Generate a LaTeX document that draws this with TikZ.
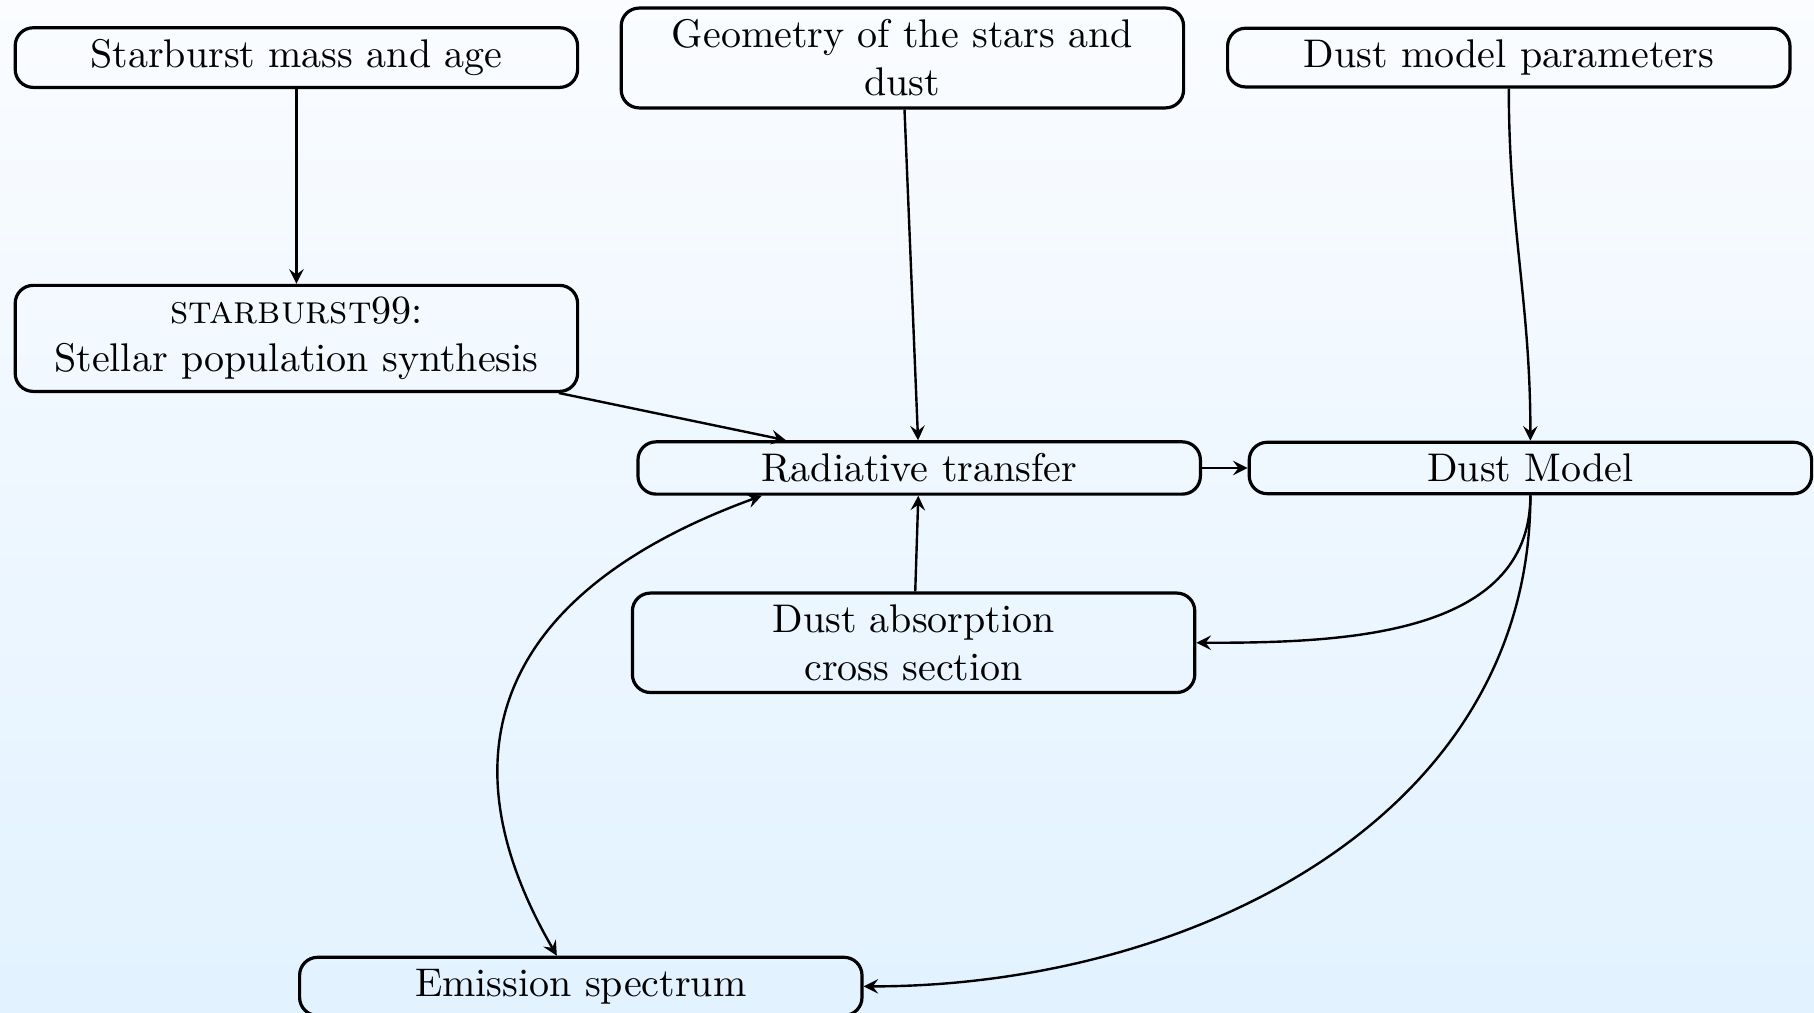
\documentclass[tikz,border=0pt]{standalone}
\definecolor{bgtop}{RGB}{250,252,255}
\definecolor{bgbot}{RGB}{226,242,255}
\begin{document}
\begin{tikzpicture}[->,>=stealth,semithick,main node/.style={rectangle,draw,thick,rounded corners=4.5pt,text width=133pt,align=center,minimum width=140.6pt,inner ysep=2.9pt}]
        \shade[-,top color=bgtop,bottom color=bgbot] (0,0) rectangle (453.5pt,-253.25pt);
        \useasboundingbox (0,0) rectangle (453.5pt,-253.25pt);
        \node[main node] (1) at (74.1pt,-14.4pt)   {Starburst mass and age};
        \node[main node] (2) at (225.6pt,-14.5pt)  {Geometry of the stars and\\dust};
        \node[main node] (3) at (377.2pt,-14.4pt)  {Dust model parameters};
        \node[main node] (4) at (74.1pt,-84.6pt)   {\textsc{starburst}99:\\Stellar population synthesis};
        \node[main node] (5) at (229.8pt,-117pt)   {Radiative transfer};
        \node[main node] (6) at (382.6pt,-117pt)   {Dust Model};
        \node[main node] (7) at (228.4pt,-160.7pt) {Dust absorption\\cross section};
        \node[main node] (8) at (145.2pt,-246.6pt) {Emission spectrum};
        \draw (1) -- (4);
        \draw (4) -- (5);
        \draw (2) -- (5);
        \draw (3) to[out=-90,in=90] (6);
        \draw (5) -- (6);
        \draw (7) -- (5);
        \draw (6) to[out=-90,in=0] (7);
        \draw (6) to[out=-90,in=0] (8);
        \draw[<->] (5.190) to[out=200,in=120,looseness=1.3] (8.128);
      \end{tikzpicture}
\end{document}
